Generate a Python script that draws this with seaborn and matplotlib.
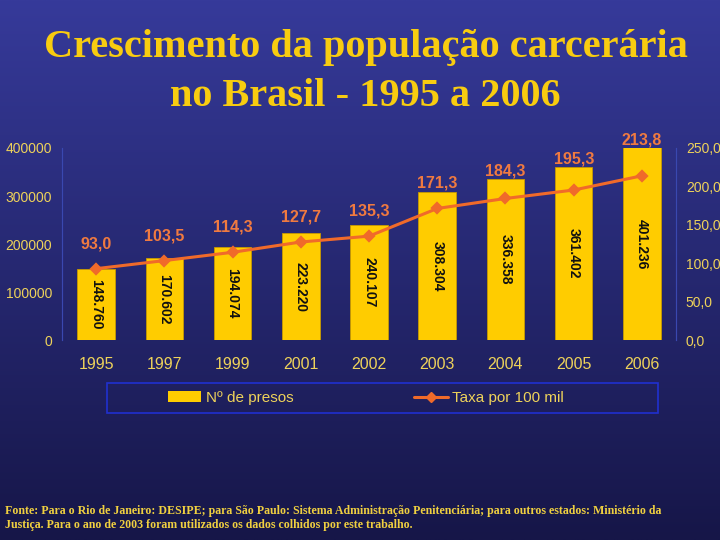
import numpy as np
import pandas as pd
import seaborn as sns
import matplotlib.pyplot as plt
from matplotlib.patches import Rectangle
from matplotlib.lines import Line2D

# Data
anos = ['1995', '1997', '1999', '2001', '2002', '2003', '2004', '2005', '2006']
presos = [148760, 170602, 194074, 223220, 240107, 308304, 336358, 361402, 401236]
taxa = [93.0, 103.5, 114.3, 127.7, 135.3, 171.3, 184.3, 195.3, 213.8]

df = pd.DataFrame({'ano': anos, 'presos': presos, 'taxa': taxa})

sns.set_style("white")
plt.rcParams['font.family'] = ['Liberation Sans', 'DejaVu Sans']

amarelo = '#FFCC00'
laranja = '#F06A2A'
txt_amarelo = '#EED25A'

fig = plt.figure(figsize=(7.2, 5.4), dpi=100)

# Background gradient
bg = fig.add_axes([0, 0, 1, 1], zorder=-10)
top = np.array([0x36, 0x3A, 0x9A]) / 255
bot = np.array([0x16, 0x16, 0x48]) / 255
t = np.linspace(0, 1, 256)[:, None]
grad = (top * (1 - t) + bot * t)[:, None, :].repeat(2, axis=1)
bg.imshow(grad, aspect='auto', extent=[0, 1, 0, 1])
bg.set_axis_off()

ax = fig.add_axes([0.086, 0.370, 0.853, 0.356])
ax.patch.set_alpha(0)

sns.barplot(data=df, x='ano', y='presos', color=amarelo, saturation=1,
            width=0.55, edgecolor='#C89A00', linewidth=0.6, ax=ax)
ax.set_ylim(0, 400000)
ax.set_yticks([0, 100000, 200000, 300000, 400000])
ax.set_xlabel('')
ax.set_ylabel('')

rotulos = [f"{v:,}".replace(',', '.') for v in presos]
ax.bar_label(ax.containers[0], labels=rotulos, label_type='center',
             rotation=270, fontsize=10, fontweight='bold', color='#111111')

ax2 = ax.twinx()
ax2.patch.set_alpha(0)
sns.pointplot(data=df, x='ano', y='taxa', color=laranja, markers='D',
              markersize=5, linewidth=2.2, ax=ax2)
ax2.set_ylim(0, 250)
ax2.set_yticks([0, 50, 100, 150, 200, 250])
ax2.set_yticklabels([f"{v:.1f}".replace('.', ',') for v in [0, 50, 100, 150, 200, 250]])
ax2.set_ylabel('')
ax2.set_xlabel('')
ax.set_xlim(-0.5, 8.5)
ax2.set_xlim(-0.5, 8.5)

# rate labels: above the point, pushed up to clear the tall bars
escala = 250 / 400000
for i, (v, p) in enumerate(zip(taxa, presos)):
    ancora = max(v, p * escala - 23)
    ax2.annotate(f"{v:.1f}".replace('.', ','), (i, ancora), xytext=(0, 18),
                 textcoords='offset points', ha='center', va='center',
                 fontsize=11.5, fontweight='bold', color='#F07A40')

for a in (ax, ax2):
    a.grid(False)
    a.tick_params(length=0)
    for s in ('top', 'bottom'):
        a.spines[s].set_visible(False)
    for s in ('left', 'right'):
        a.spines[s].set_color('#3A48B0')
        a.spines[s].set_linewidth(0.8)

ax.tick_params(axis='y', colors=txt_amarelo, labelsize=10, pad=7)
ax.tick_params(axis='x', colors=txt_amarelo, labelsize=11.5, pad=12)
ax2.tick_params(axis='y', colors=txt_amarelo, labelsize=10, pad=7)

# Title
fig.text(0.508, 1 - 72 / 540, 'Crescimento da população carcerária\nno Brasil - 1995 a 2006',
         ha='center', va='center', fontsize=29, fontweight='bold',
         family=['Liberation Serif', 'DejaVu Serif'], color='#F8CC10',
         linespacing=1.45)

# Legend
fig.patches.append(Rectangle((107 / 720, 1 - 413 / 540), 551 / 720, 30 / 540,
                             transform=fig.transFigure, facecolor='none',
                             edgecolor='#2030D0', linewidth=1.2))
handles = [Rectangle((0, 0), 1, 1, facecolor=amarelo, edgecolor='none'),
           Line2D([], [], color=laranja, marker='D', markersize=5, linewidth=2.2)]
fig.legend(handles, ['Nº de presos', 'Taxa por 100 mil'], loc='center',
           bbox_to_anchor=(0.508, 1 - 398 / 540), ncol=2, frameon=False,
           fontsize=11, labelcolor=txt_amarelo, handlelength=2.2,
           handletextpad=0.3, columnspacing=7.9)

# Footnote
fig.text(0.007, 1 - 518 / 540,
         'Fonte: Para o Rio de Janeiro: DESIPE; para São Paulo: Sistema Administração '
         'Penitenciária; para outros estados: Ministério da\n'
         'Justiça. Para o ano de 2003 foram utilizados os dados colhidos por este trabalho.',
         ha='left', va='center', fontsize=8.6, fontweight='bold',
         family=['Liberation Serif', 'DejaVu Serif'], color='#F0D040',
         linespacing=1.2)

fig.savefig('out.png', dpi=100)
